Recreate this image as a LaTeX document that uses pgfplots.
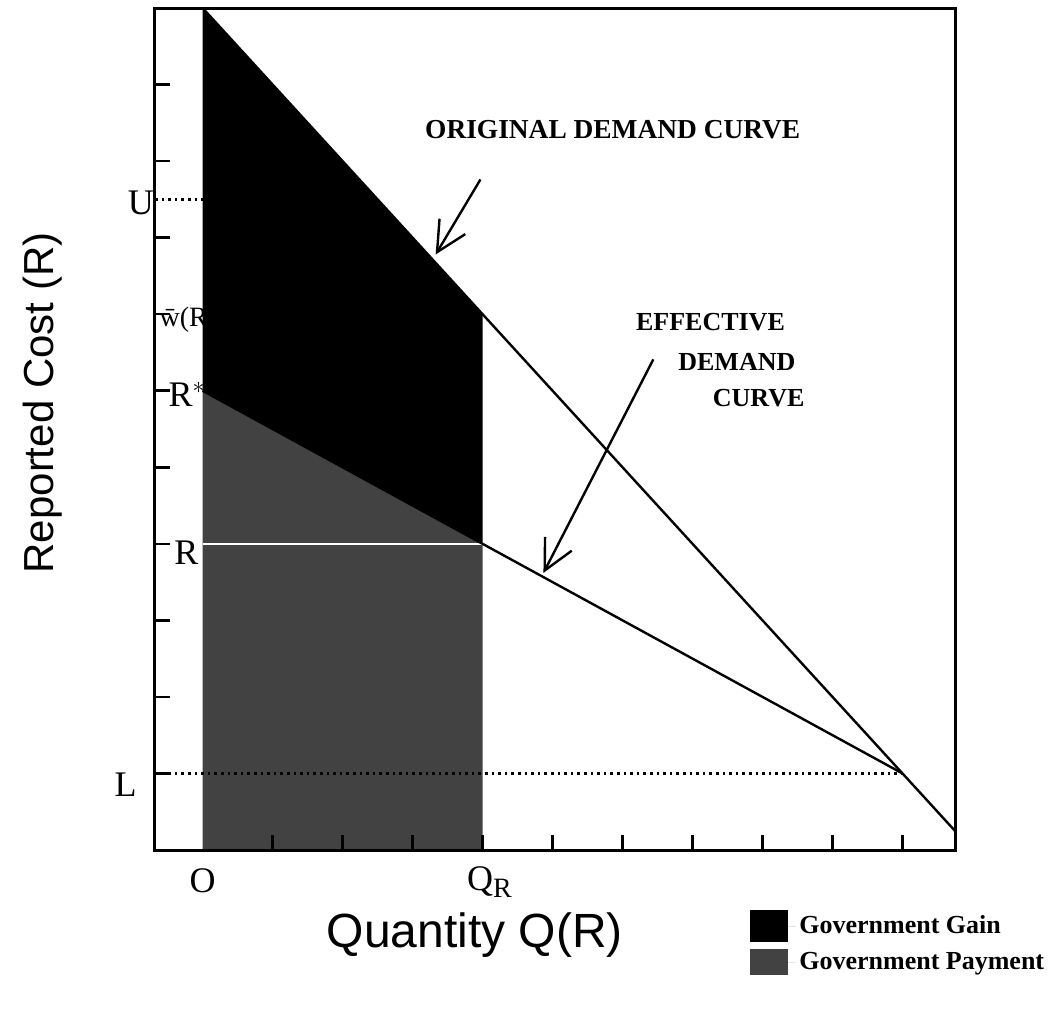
\documentclass[border=0pt]{standalone}
\usepackage{pgfplots}
\pgfplotsset{compat=1.18}
\usepackage{fontspec}
\setmainfont{Liberation Serif}
\setsansfont{Liberation Sans}
\usetikzlibrary{arrows.meta}
\begin{document}
\begin{tikzpicture}
\path[use as bounding box] (-77.5pt,-79.5pt) rectangle (450.5pt,425pt);
\begin{axis}[
  at={(0,0)}, anchor=south west,
  scale only axis, width=400pt, height=421pt,
  xmin=-0.68, xmax=10.75, ymin=0, ymax=11,
  xtick={1,...,10}, ytick={1,...,10},
  xticklabels={}, yticklabels={},
  tick pos=left, tick align=inside,
  major tick length=7.5pt,
  every tick/.style={black, line width=1.3pt},
  axis line style={line width=1.5pt},
  axis on top, clip=false,
  legend style={at={(axis cs:7.82,-0.78)}, anchor=north west, draw=none, fill=none,
    font=\fontsize{13}{15}\selectfont\bfseries, row sep=3pt,
    inner sep=0pt, nodes={inner sep=2pt}},
  legend cell align=left,
]
% Government Gain (black)
\addplot[fill=black, draw=none,
  legend image code/.code={\fill[black] (0pt,-8pt) rectangle (19pt,8pt); \path (0pt,0pt) -- (22.5pt,0pt);}]
  coordinates {(0,11) (4,7) (4,4) (0,6)} -- cycle;
\addlegendentry{Government Gain}
% Government Payment (grey)
\addplot[fill=black!74, draw=none,
  legend image code/.code={\fill[black!74] (0pt,-6.5pt) rectangle (19pt,6.5pt); \path (0pt,0pt) -- (22.5pt,0pt);}]
  coordinates {(0,0) (0,6) (4,4) (4,0)} -- cycle;
\addlegendentry{Government Payment}
% white line at R inside shading
\addplot[white, line width=0.8pt, forget plot] coordinates {(0,4) (4,4)};
% dotted guides
\addplot[black, dotted, line width=1.3pt, forget plot] coordinates {(-0.68,1) (10,1)};
\addplot[black, dotted, line width=1.3pt, forget plot] coordinates {(-0.68,8.5) (0,8.5)};
% demand curves
\addplot[black, line width=1.2pt, forget plot] coordinates {(0,11) (4,7) (10,1) (10.75,0.25)};
\addplot[black, line width=1.2pt, forget plot] coordinates {(0,6) (4,4) (10,1)};
% arrows
\draw[line width=1.2pt, -{Straight Barb[length=15pt,width=15pt]}] (axis cs:3.97,8.76) -- (axis cs:3.33,7.78);
\draw[line width=1.2pt, -{Straight Barb[length=15pt,width=15pt]}] (axis cs:6.44,6.41) -- (axis cs:4.87,3.62);
% annotations
\node[font=\fontsize{13.7}{15}\selectfont\bfseries] at (axis cs:5.86,9.41) {ORIGINAL DEMAND CURVE};
\node[font=\fontsize{13}{15}\selectfont\bfseries, anchor=east] at (axis cs:8.42,6.90) {EFFECTIVE};
\node[font=\fontsize{13}{15}\selectfont\bfseries, anchor=east] at (axis cs:8.57,6.38) {DEMAND};
\node[font=\fontsize{13}{15}\selectfont\bfseries, anchor=east] at (axis cs:8.70,5.91) {CURVE};
% axis value labels
\node[font=\fontsize{18}{20}\selectfont] at (axis cs:-0.88,8.45) {U};
\node[font=\fontsize{14}{16}\selectfont] at (axis cs:-0.27,6.93) {\={w}(R};
\node[font=\fontsize{18}{20}\selectfont] at (axis cs:-0.22,5.95) {R$^{*}$};
\node[font=\fontsize{18}{20}\selectfont] at (axis cs:-0.23,3.88) {R};
\node[font=\fontsize{18}{20}\selectfont] at (axis cs:-1.1,0.85) {L};
\node[font=\fontsize{18}{20}\selectfont] at (axis cs:0,-0.4) {O};
\node[font=\fontsize{18}{20}\selectfont] at (axis cs:4.1,-0.42) {Q\raisebox{-0.4ex}{\fontsize{14}{16}\selectfont R}};
% axis titles
\node[font=\sffamily\fontsize{24}{28}\selectfont] at (axis cs:3.89,-1.11) {Quantity Q(R)};
\node[font=\sffamily\fontsize{21}{24}\selectfont, rotate=90] at (axis cs:-2.28,5.84) {Reported Cost (R)};
\end{axis}
\end{tikzpicture}
\end{document}
